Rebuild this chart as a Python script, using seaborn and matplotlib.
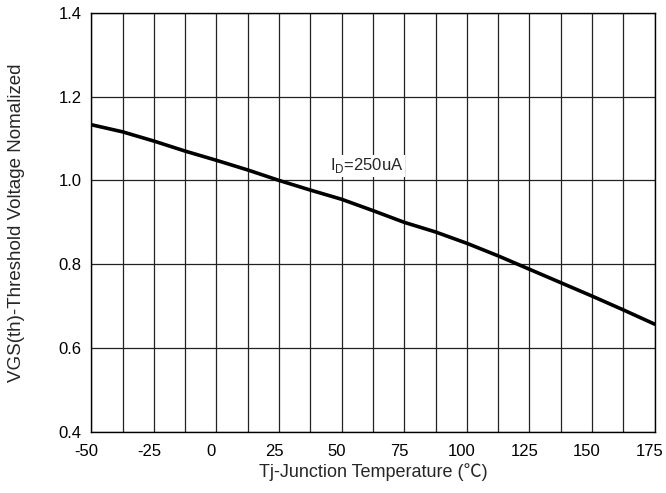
import numpy as np
import pandas as pd
import seaborn as sns
import matplotlib.pyplot as plt
import matplotlib.transforms as mtransforms

# values
temp = [-50, -37.5, -25, -12.5, 0, 12.5, 25, 37.5, 50, 62.5, 75, 87.5, 100, 112.5, 125, 137.5, 150, 162.5, 175]
vth_norm = [1.133, 1.116, 1.094, 1.070, 1.048, 1.025, 1.000, 0.977, 0.955, 0.928, 0.900, 0.877, 0.850, 0.820, 0.788, 0.756, 0.724, 0.691, 0.657]
x_ticks = [-50, -25, 0, 25, 50, 75, 100, 125, 150, 175]
y_ticks = [0.4, 0.6, 0.8, 1.0, 1.2, 1.4]

sns.set_style("white")
plt.rcParams['font.family'] = ['Liberation Sans', 'Noto Sans CJK SC', 'DejaVu Sans']
plt.rcParams['mathtext.fontset'] = 'custom'
plt.rcParams['mathtext.rm'] = 'Liberation Sans'
plt.rcParams['axes.unicode_minus'] = False

df = pd.DataFrame({'Tj': temp, 'Vth': vth_norm})

fig, ax = plt.subplots(figsize=(6.66, 4.93), dpi=100)
fig.subplots_adjust(left=0.137, right=0.983, top=0.974, bottom=0.124)

sns.lineplot(data=df, x='Tj', y='Vth', ax=ax, color='black', linewidth=2.6)

ax.set_xlim(-50, 175)
ax.set_ylim(0.4, 1.4)
ax.set_xticks(x_ticks)
ax.set_yticks(y_ticks)
ax.set_yticklabels([f'{v:.1f}' for v in y_ticks])
ax.set_xticks(np.arange(-37.5, 175, 25), minor=True)
ax.grid(True, which='both', color='#222222', linewidth=0.9)
ax.set_axisbelow(True)
ax.tick_params(which='both', length=0, labelsize=12, colors='black')
ax.tick_params(axis='x', pad=9)
ax.tick_params(axis='y', pad=7)

# x tick labels sit a little left of their grid lines in the reference
shift = mtransforms.ScaledTranslation(-5 / 100, 0, fig.dpi_scale_trans)
for lbl in ax.get_xticklabels():
    lbl.set_transform(lbl.get_transform() + shift)

for s in ax.spines.values():
    s.set_color('black')
    s.set_linewidth(1.0)

ax.text(45.3, 1.024, r'I$_\mathregular{D}$=250uA', fontsize=12,
        bbox=dict(facecolor='white', edgecolor='none', pad=1))

ax.set_xlabel('Tj-Junction Temperature (℃)', fontsize=13, labelpad=3)
ax.set_ylabel('VGS(th)-Threshold Voltage Nomalized', fontsize=13.5)
ax.yaxis.set_label_coords(-0.117, 0.5)

fig.savefig('out.png', dpi=100)
